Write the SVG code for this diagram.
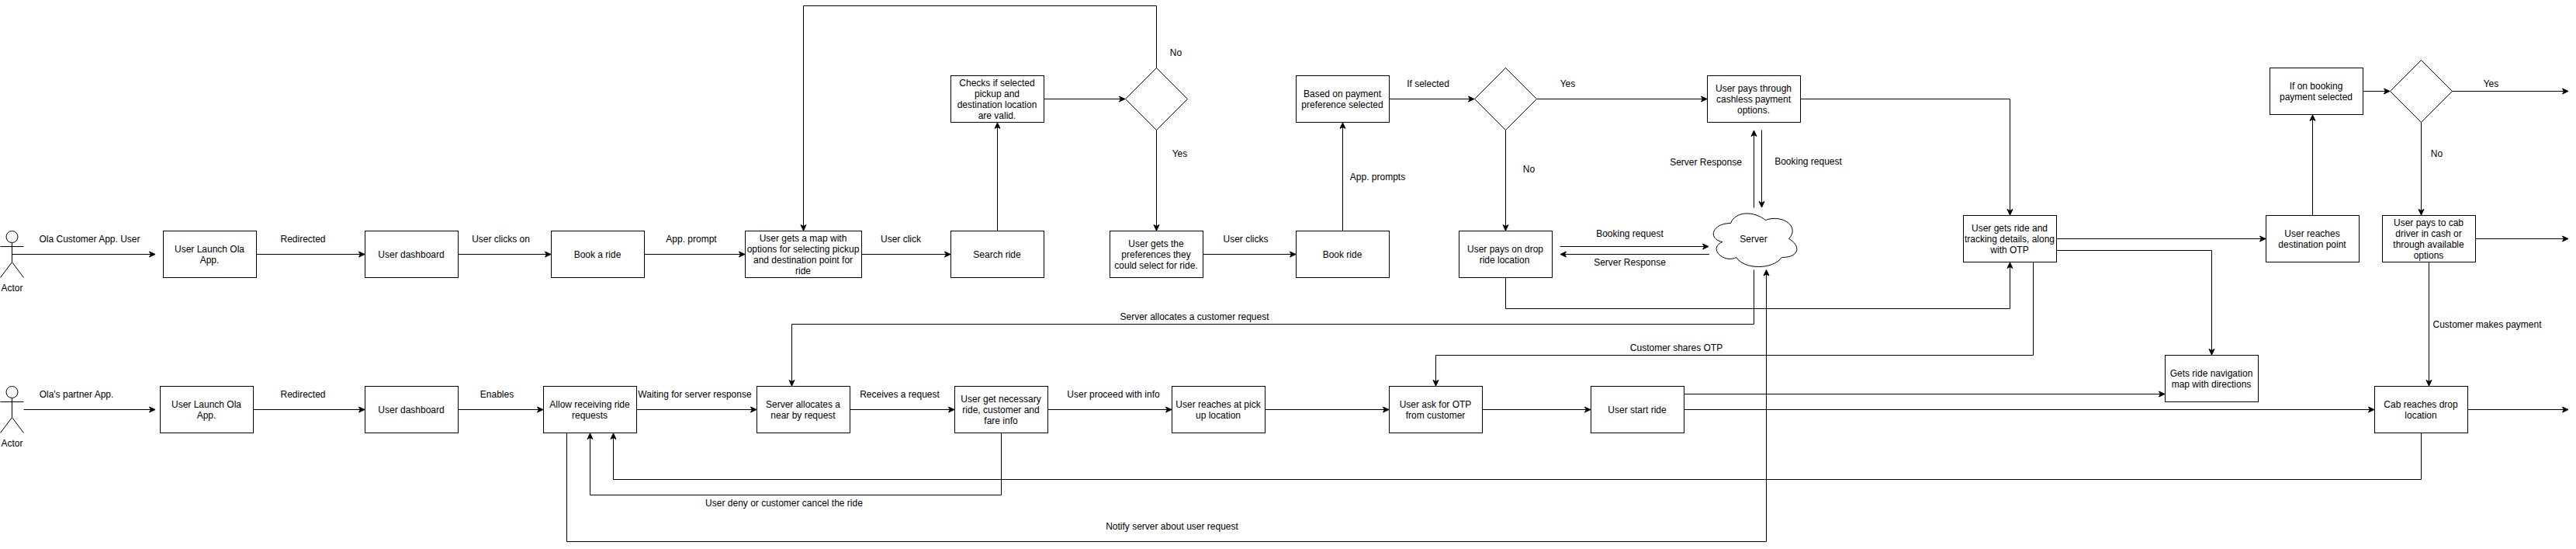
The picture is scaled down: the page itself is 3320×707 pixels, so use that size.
<svg xmlns="http://www.w3.org/2000/svg" width="3320" height="707" viewBox="0 0 3320 707">
<style>
text{font-family:"Liberation Sans",Arial,Helvetica,sans-serif;font-size:12px;fill:#000;text-anchor:middle}
.box{fill:#fff;stroke:#000;stroke-width:1}
.shape{fill:#fff;stroke:#000;stroke-width:1}
.actor{fill:none;stroke:#000;stroke-width:1}
.c{fill:none;stroke:#000;stroke-width:1}
.a{marker-end:url(#arrow)}
</style>
<defs>
<marker id="arrow" markerUnits="userSpaceOnUse" markerWidth="12" markerHeight="12" refX="9" refY="6" orient="auto">
<path d="M1.5 2.5L9 6L1.5 9.5L3.5 6Z" fill="#000" stroke="#000" stroke-width="1"/>
</marker>
</defs>
<rect x="0" y="0" width="3320" height="707" fill="#fff"/>
<g id="connectors">
<path class="c a" d="M15.5 327.5H200"/>
<path class="c a" d="M330.5 327.5H470"/>
<path class="c a" d="M590.5 327.5H710"/>
<path class="c a" d="M830.5 327.5H960"/>
<path class="c a" d="M1110.5 327.5H1225"/>
<path class="c a" d="M1285.5 297.5V158"/>
<path class="c a" d="M1345.5 127.5H1450"/>
<path class="c a" d="M1490.5 87.5V7.5H1035.5V297"/>
<path class="c a" d="M1490.5 167.5V297"/>
<path class="c a" d="M1550.5 327.5H1670"/>
<path class="c a" d="M1730.5 297.5V158"/>
<path class="c a" d="M1790.5 127.5H1900"/>
<path class="c a" d="M1980.5 127.5H2200"/>
<path class="c a" d="M1940.5 167.5V297"/>
<path class="c a" d="M2010.5 317.5H2202"/>
<path class="c a" d="M2203 327.5H2011"/>
<path class="c a" d="M2260.5 267.5V168"/>
<path class="c a" d="M2270.5 167.5V267"/>
<path class="c a" d="M2320.5 127.5H2590.5V277"/>
<path class="c a" d="M1940.5 357.5V397.5H2590.5V338"/>
<path class="c a" d="M2650.5 307.5H2920"/>
<path class="c a" d="M2650.5 322.5H2850.5V457"/>
<path class="c a" d="M2980.5 277.5V148"/>
<path class="c a" d="M3045.5 117.5H3080"/>
<path class="c a" d="M3160.5 117.5H3310"/>
<path class="c a" d="M3120.5 157.5V277"/>
<path class="c a" d="M3190.5 307.5H3310"/>
<path class="c a" d="M3130.5 337.5V497"/>
<path class="c a" d="M30.5 527.5H200"/>
<path class="c a" d="M326.5 527.5H470"/>
<path class="c a" d="M590.5 527.5H700"/>
<path class="c a" d="M820.5 527.5H975"/>
<path class="c a" d="M1095.5 527.5H1230"/>
<path class="c a" d="M1350.5 527.5H1510"/>
<path class="c a" d="M1630.5 527.5H1790"/>
<path class="c a" d="M1910.5 527.5H2050"/>
<path class="c a" d="M2170.5 527.5H3060"/>
<path class="c a" d="M2170.5 507.5H2790"/>
<path class="c a" d="M3180.5 527.5H3310"/>
<path class="c a" d="M2260.5 347.5V417.5H1020.5V497"/>
<path class="c a" d="M2620.5 337.5V457.5H1850.5V497"/>
<path class="c a" d="M1290.5 557.5V637.5H760.5V558"/>
<path class="c a" d="M3120.5 557.5V617.5H790.5V558"/>
<path class="c a" d="M730.5 557.5V697.5H2276.5V347.5"/>
</g>
<g id="connector-labels">
<text x="115.5" y="312">Ola Customer App. User</text>
<text x="390.5" y="312">Redirected</text>
<text x="645.5" y="312">User clicks on</text>
<text x="891" y="312">App. prompt</text>
<text x="1161" y="312">User click</text>
<text x="1515.5" y="72">No</text>
<text x="1520.5" y="202">Yes</text>
<text x="1605.5" y="312">User clicks</text>
<text x="1775.5" y="232">App. prompts</text>
<text x="1840.5" y="112">If selected</text>
<text x="2020.5" y="112">Yes</text>
<text x="1970.5" y="222">No</text>
<text x="2198.5" y="213">Server Response</text>
<text x="2330.5" y="212">Booking request</text>
<text x="2100.5" y="305">Booking request</text>
<text x="2100.5" y="342">Server Response</text>
<text x="3210.5" y="112">Yes</text>
<text x="3140.5" y="202">No</text>
<text x="1539.5" y="412">Server allocates a customer request</text>
<text x="2160.5" y="452">Customer shares OTP</text>
<text x="3205.5" y="422">Customer makes payment</text>
<text x="98.5" y="512">Ola's partner App.</text>
<text x="390.5" y="512">Redirected</text>
<text x="640.5" y="512">Enables</text>
<text x="895.5" y="512">Waiting for server response</text>
<text x="1159.5" y="512">Receives a request</text>
<text x="1435" y="512">User proceed with info</text>
<text x="1010.5" y="652">User deny or customer cancel the ride</text>
<text x="1510.5" y="682">Notify server about user request</text>
</g>
<g id="actor-customer">
<path class="actor" d="M15.5 312.5V337.5M0.5 317.5H30.5M0.5 357.5L15.5 337.5L30.5 357.5"/>
<circle class="shape" cx="15.5" cy="305" r="7.5"/>
<text x="15.5" y="375">Actor</text>
</g>
<g id="actor-partner">
<path class="actor" d="M15.5 512.5V537.5M0.5 517.5H30.5M0.5 557.5L15.5 537.5L30.5 557.5"/>
<circle class="shape" cx="15.5" cy="505" r="7.5"/>
<text x="15.5" y="575">Actor</text>
</g>
<g id="customer-launch"><rect class="box" x="210.5" y="297.5" width="120" height="60"/><text x="270" y="325">User Launch Ola</text><text x="270" y="339">App.</text></g>
<g id="customer-dashboard"><rect class="box" x="470.5" y="297.5" width="120" height="60"/><text x="530" y="332">User dashboard</text></g>
<g id="book-a-ride"><rect class="box" x="710.5" y="297.5" width="120" height="60"/><text x="770" y="332">Book a ride</text></g>
<g id="map-options"><rect class="box" x="960.5" y="297.5" width="150" height="60"/><text x="1035" y="311">User gets a map with</text><text x="1035" y="325">options for selecting pickup</text><text x="1035" y="339">and destination point for</text><text x="1035" y="353">ride</text></g>
<g id="search-ride"><rect class="box" x="1225.5" y="297.5" width="120" height="60"/><text x="1285" y="332">Search ride</text></g>
<g id="check-valid"><rect class="box" x="1225.5" y="97.5" width="120" height="60"/><text x="1285" y="111">Checks if selected</text><text x="1285" y="125">pickup and</text><text x="1285" y="139">destination location</text><text x="1285" y="153">are valid.</text></g>
<g id="decision-valid"><polygon class="shape" points="1490.5,87.5 1530.5,127.5 1490.5,167.5 1450.5,127.5"/></g>
<g id="preferences"><rect class="box" x="1430.5" y="297.5" width="120" height="60"/><text x="1490" y="318">User gets the</text><text x="1490" y="332">preferences they</text><text x="1490" y="346">could select for ride.</text></g>
<g id="book-ride"><rect class="box" x="1670.5" y="297.5" width="120" height="60"/><text x="1730" y="332">Book ride</text></g>
<g id="payment-preference"><rect class="box" x="1670.5" y="97.5" width="120" height="60"/><text x="1730" y="125">Based on payment</text><text x="1730" y="139">preference selected</text></g>
<g id="decision-payment"><polygon class="shape" points="1940.5,87.5 1980.5,127.5 1940.5,167.5 1900.5,127.5"/></g>
<g id="pay-cashless"><rect class="box" x="2200.5" y="97.5" width="120" height="60"/><text x="2260" y="118">User pays through</text><text x="2260" y="132">cashless payment</text><text x="2260" y="146">options.</text></g>
<g id="pay-on-drop"><rect class="box" x="1880.5" y="297.5" width="120" height="60"/><text x="1940" y="325">User pays on drop</text><text x="1939" y="339">ride location</text></g>
<g id="server"><path class="shape" d="M2230.5 287.5C2206.5 287.5 2200.5 307.5 2219.7 311.5C2200.5 320.3 2222.1 339.5 2237.7 331.5C2248.5 347.5 2284.5 347.5 2296.5 331.5C2320.5 331.5 2320.5 315.5 2305.5 307.5C2320.5 291.5 2296.5 275.5 2275.5 283.5C2260.5 271.5 2236.5 271.5 2230.5 287.5Z"/><text x="2260" y="312">Server</text></g>
<g id="ride-tracking"><rect class="box" x="2530.5" y="277.5" width="120" height="60"/><text x="2590" y="298">User gets ride and</text><text x="2590" y="312">tracking details, along</text><text x="2590" y="326">with OTP</text></g>
<g id="destination"><rect class="box" x="2920.5" y="277.5" width="120" height="60"/><text x="2980" y="305">User reaches</text><text x="2980" y="319">destination point</text></g>
<g id="on-booking"><rect class="box" x="2925.5" y="87.5" width="120" height="60"/><text x="2985" y="115">If on booking</text><text x="2985" y="129">payment selected</text></g>
<g id="decision-booking"><polygon class="shape" points="3120.5,77.5 3160.5,117.5 3120.5,157.5 3080.5,117.5"/></g>
<g id="pay-driver"><rect class="box" x="3070.5" y="277.5" width="120" height="60"/><text x="3130" y="291">User pays to cab</text><text x="3130" y="305">driver in cash or</text><text x="3130" y="319">through available</text><text x="3130" y="333">options</text></g>
<g id="partner-launch"><rect class="box" x="206.5" y="497.5" width="120" height="60"/><text x="266" y="525">User Launch Ola</text><text x="266" y="539">App.</text></g>
<g id="partner-dashboard"><rect class="box" x="470.5" y="497.5" width="120" height="60"/><text x="530" y="532">User dashboard</text></g>
<g id="allow-requests"><rect class="box" x="700.5" y="497.5" width="120" height="60"/><text x="760" y="525">Allow receiving ride</text><text x="760" y="539">requests</text></g>
<g id="server-allocates"><rect class="box" x="975.5" y="497.5" width="120" height="60"/><text x="1035" y="525">Server allocates a</text><text x="1035" y="539">near by request</text></g>
<g id="necessary-info"><rect class="box" x="1230.5" y="497.5" width="120" height="60"/><text x="1290" y="518">User get necessary</text><text x="1290" y="532">ride, customer and</text><text x="1290" y="546">fare info</text></g>
<g id="pickup"><rect class="box" x="1510.5" y="497.5" width="120" height="60"/><text x="1570" y="525">User reaches at pick</text><text x="1570" y="539">up location</text></g>
<g id="ask-otp"><rect class="box" x="1790.5" y="497.5" width="120" height="60"/><text x="1850" y="525">User ask for OTP</text><text x="1850" y="539">from customer</text></g>
<g id="start-ride"><rect class="box" x="2050.5" y="497.5" width="120" height="60"/><text x="2110" y="532">User start ride</text></g>
<g id="navigation"><rect class="box" x="2790.5" y="457.5" width="120" height="60"/><text x="2850" y="485">Gets ride navigation</text><text x="2850" y="499">map with directions</text></g>
<g id="drop-location"><rect class="box" x="3060.5" y="497.5" width="120" height="60"/><text x="3120" y="525">Cab reaches drop</text><text x="3120" y="539">location</text></g>
</svg>
